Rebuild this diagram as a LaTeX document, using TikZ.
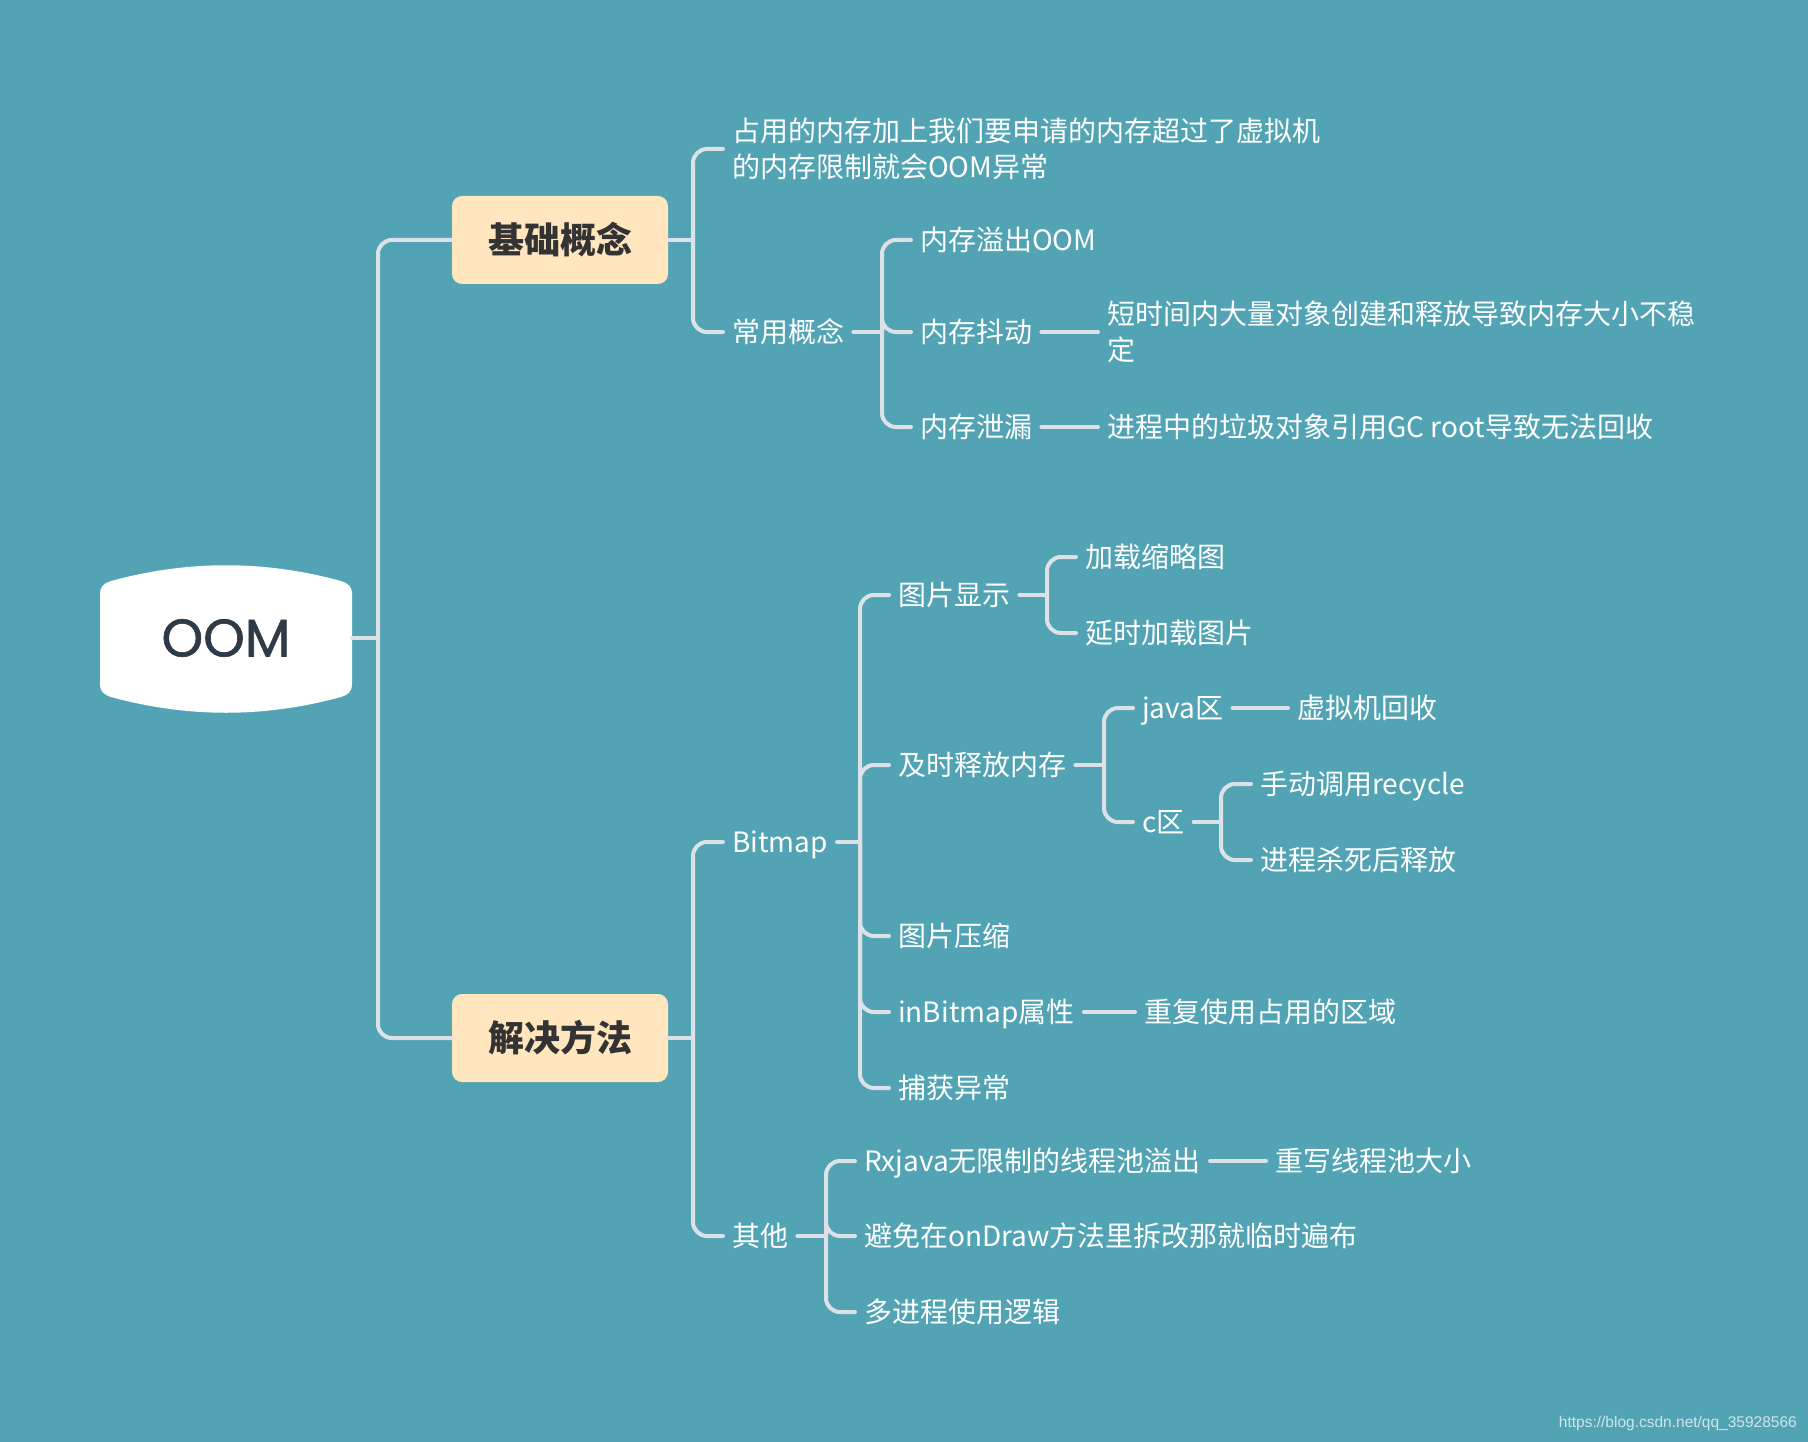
\documentclass[tikz,border=0pt]{standalone}
\usepackage{fontspec}
\setmainfont{Noto Sans CJK SC}
\newfontfamily\oomfont{Poppins}[FakeBold=1.2]
\newfontfamily\wmfont{Liberation Sans}
\definecolor{bg}{HTML}{52A4B5}
\definecolor{linec}{HTML}{DDE2E9}
\definecolor{boxfill}{HTML}{FFE6BF}
\definecolor{boxtext}{HTML}{333333}
\definecolor{oomtext}{HTML}{2E3A46}
\definecolor{wm}{HTML}{D2E4E9}
\begin{document}
\begin{tikzpicture}[x=1pt,y=-1pt,
  conn/.style={draw=linec, line width=4pt, rounded corners=14pt, line cap=round},
  lbl/.style={anchor=west, inner xsep=9pt, inner ysep=0pt, xshift=-9pt, text=white,
    font=\fontsize{28}{36}\selectfont, align=left, text height=21pt, text depth=0pt},
  twolines/.style={text height=57pt},
  topicbox/.style={fill=boxfill, rounded corners=10pt, minimum width=216pt, minimum height=88pt,
    inner sep=0pt, text=boxtext, font=\fontsize{36}{40}\selectfont\bfseries, text height=27pt, text depth=0pt}]
\fill[bg] (0,0) rectangle (1808,1442);
\useasboundingbox (0,0) rectangle (1808,1442);

% central shape
\fill[white] (100,593) -- (100,685)
  .. controls (100,691) and (104,695) .. (111,697)
  .. controls (188,718) and (264,718) .. (341,697)
  .. controls (348,695) and (352,691) .. (352,685)
  -- (352,593) .. controls (352,587) and (348,583) .. (341,581)
  .. controls (264,560) and (188,560) .. (111,581)
  .. controls (104,583) and (100,587) .. (100,593) -- cycle;
\node[minimum width=252pt, minimum height=148pt, inner sep=0pt, text=oomtext,
  font=\oomfont\fontsize{53}{60}\selectfont] (oom) at (226,638) {OOM};

% bracket x positions
\coordinate (k0) at (378,0);
\coordinate (k1) at (693,0);
\coordinate (k2) at (882,0);
\coordinate (k3) at (860,0);
\coordinate (k4) at (1047,0);
\coordinate (k5) at (1104,0);
\coordinate (k6) at (1221,0);
\coordinate (k7) at (826,0);

\node[topicbox] (b1) at (560,240) {基础概念};
\node[topicbox] (b2) at (560,1038) {解决方法};

\node[lbl, twolines] (t1) at (732,149) {占用的内存加上我们要申请的内存超过了虚拟机\\的内存限制就会OOM异常};
\node[lbl] (cy) at (732,332) {常用概念};
\node[lbl] (n1) at (920,240) {内存溢出OOM};
\node[lbl] (n2) at (920,332) {内存抖动};
\node[lbl, twolines] (n2d) at (1107,332) {短时间内大量对象创建和释放导致内存大小不稳\\定};
\node[lbl] (n3) at (920,427) {内存泄漏};
\node[lbl] (n3d) at (1107,427) {进程中的垃圾对象引用GC root导致无法回收};

\node[lbl] (bm) at (732,842) {Bitmap};
\node[lbl] (p1) at (898,595) {图片显示};
\node[lbl] (q1) at (1085,557) {加载缩略图};
\node[lbl] (q2) at (1085,633) {延时加载图片};
\node[lbl] (p2) at (898,765) {及时释放内存};
\node[lbl] (r1) at (1142,708) {java区};
\node[lbl] (r1d) at (1297,708) {虚拟机回收};
\node[lbl] (r2) at (1142,822) {c区};
\node[lbl] (s1) at (1260,784) {手动调用recycle};
\node[lbl] (s2) at (1260,860) {进程杀死后释放};
\node[lbl] (p3) at (898,936) {图片压缩};
\node[lbl] (p4) at (898,1012) {inBitmap属性};
\node[lbl] (p4d) at (1144,1012) {重复使用占用的区域};
\node[lbl] (p5) at (898,1088) {捕获异常};
\node[lbl] (qt) at (732,1236) {其他};
\node[lbl] (o1) at (864,1161) {Rxjava无限制的线程池溢出};
\node[lbl] (o1d) at (1275,1161) {重写线程池大小};
\node[lbl] (o2) at (864,1236) {避免在onDraw方法里拆改那就临时遍布};
\node[lbl] (o3) at (864,1312) {多进程使用逻辑};

\node[anchor=east, inner sep=0pt, text=wm, font=\wmfont\fontsize{15.5}{18}\selectfont] (wmk) at (1797,1423) {https://blog.csdn.net/qq\_35928566};

% connectors
\newcommand\stub[2]{\draw[conn] (#1.east) -- (#1.east -| #2);}
\newcommand\kid[3]{\draw[conn] (#1.east -| #2) |- (#3.west);}

\stub{oom}{k0}
\kid{oom}{k0}{b1}
\kid{oom}{k0}{b2}

\stub{b1}{k1}
\kid{b1}{k1}{t1}
\kid{b1}{k1}{cy}

\stub{cy}{k2}
\kid{cy}{k2}{n1}
\kid{cy}{k2}{n2}
\kid{cy}{k2}{n3}
\draw[conn] (n2.east) -- (n2d.west);
\draw[conn] (n3.east) -- (n3d.west);

\stub{b2}{k1}
\kid{b2}{k1}{bm}
\kid{b2}{k1}{qt}

\stub{bm}{k3}
\kid{bm}{k3}{p1}
\kid{bm}{k3}{p2}
\kid{bm}{k3}{p3}
\kid{bm}{k3}{p4}
\kid{bm}{k3}{p5}

\stub{p1}{k4}
\kid{p1}{k4}{q1}
\kid{p1}{k4}{q2}

\stub{p2}{k5}
\kid{p2}{k5}{r1}
\kid{p2}{k5}{r2}
\draw[conn] (r1.east) -- (r1d.west);

\stub{r2}{k6}
\kid{r2}{k6}{s1}
\kid{r2}{k6}{s2}

\draw[conn] (p4.east) -- (p4d.west);

\stub{qt}{k7}
\kid{qt}{k7}{o1}
\kid{qt}{k7}{o2}
\kid{qt}{k7}{o3}
\draw[conn] (o1.east) -- (o1d.west);
\end{tikzpicture}
\end{document}
